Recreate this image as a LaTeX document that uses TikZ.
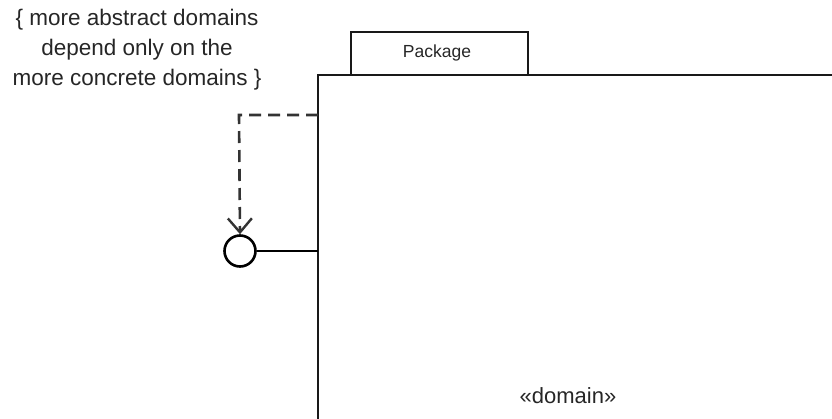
\documentclass[tikz,border=0pt]{standalone}
\usepackage{fontspec}
\setmainfont{Liberation Sans}
\usetikzlibrary{arrows.meta}
\begin{document}
\begin{tikzpicture}[x=1pt,y=-1pt,
  umlline/.style={line width=2.8pt, draw=black!90},
  lbl/.style={inner sep=0pt, text=black!85},
  dep/.style={line width=2.6pt, draw=black!80, dash pattern=on 12pt off 7pt, -{Straight Barb[length=14pt,width=24pt,line width=2.4pt]}}
]
\useasboundingbox (0,0) rectangle (832,418);
% package body and tab
\draw[umlline] (528,75) -- (528,32) -- (351,32) -- (351,75);
\draw[umlline] (318,430) -- (318,75) -- (845,75);
\node[lbl, font=\fontsize{17.5}{20}\selectfont] (pkg) at (437,53) {Package};
\node[lbl, font=\fontsize{22}{26}\selectfont] (dom) at (568,396) {«domain»};
% interface circle
\node[circle, draw=black, line width=2.6pt, minimum size=31pt, inner sep=0pt] (iface) at (240,251) {};
\coordinate (port) at (318,251);
\coordinate (src) at (318,115);
\coordinate (bend) at (239,115);
\draw[line width=2.6pt] (iface.east) -- (port);
\draw[dep] (src) -- (bend) -- (iface.north);
% note
\node[lbl, font=\fontsize{22.5}{30}\selectfont, align=center] (note) at (137,50) {\{ more abstract domains\\depend only on the\\more concrete domains \}};
\end{tikzpicture}
\end{document}
